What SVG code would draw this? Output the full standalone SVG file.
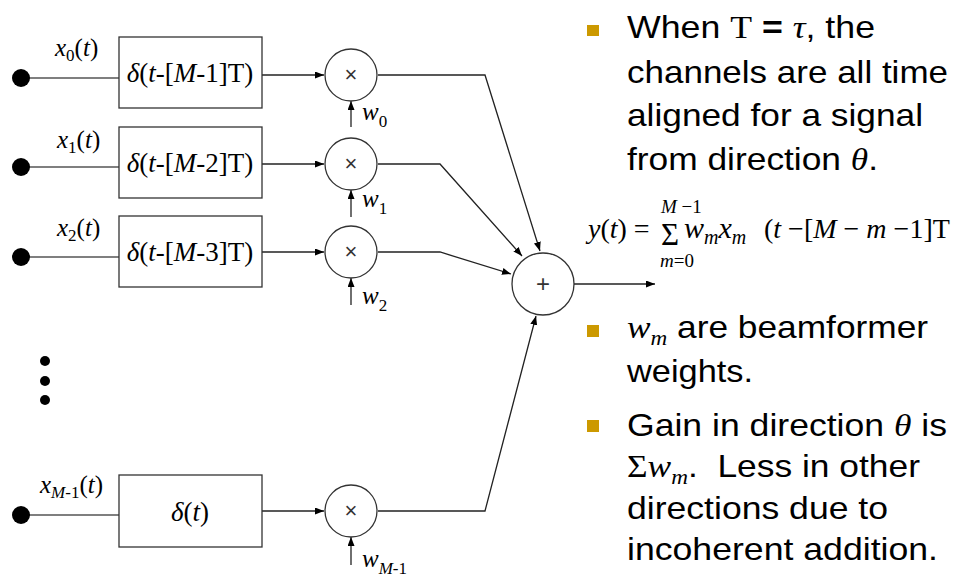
<svg xmlns="http://www.w3.org/2000/svg" width="955" height="574" viewBox="0 0 955 574">
<style>
  .ser{font-family:"Liberation Serif","Times New Roman",serif;fill:#000}
  .it{font-style:italic}
  .sans{font-family:"Liberation Sans",Arial,sans-serif;fill:#000}
  .box{fill:#fff;stroke:#333;stroke-width:1.3}
  .circ{fill:#fff;stroke:#333;stroke-width:1.3}
  .ln{fill:none;stroke:#222;stroke-width:1.3}
  .inl{fill:none;stroke:#555;stroke-width:1.3}
  .bul{fill:#CC9900}
  .rt{font-family:"Liberation Sans",Arial,sans-serif;font-size:32px;fill:#000}
  .lbl{font-size:25px}
  .sub{font-size:17px}
  .op{font-family:"Liberation Sans",Arial,sans-serif;fill:#333;font-weight:300}
</style>
<defs>
  <marker id="ah" markerUnits="userSpaceOnUse" markerWidth="10" markerHeight="8" refX="9" refY="3.5" orient="auto">
    <path d="M0,0 L9,3.5 L0,7 z" fill="#000"/>
  </marker>
</defs>
<rect width="955" height="574" fill="#fff"/>

<g id="connectors">
  <line class="inl" x1="28" y1="78" x2="119" y2="78"/>
  <line class="inl" x1="28" y1="167" x2="119" y2="167"/>
  <line class="inl" x1="28" y1="257" x2="119" y2="257"/>
  <line class="inl" x1="28" y1="515" x2="119" y2="515"/>
  <line class="ln" x1="262" y1="75" x2="324" y2="75" marker-end="url(#ah)"/>
  <line class="ln" x1="262" y1="164" x2="324" y2="164" marker-end="url(#ah)"/>
  <line class="ln" x1="262" y1="252" x2="324" y2="252" marker-end="url(#ah)"/>
  <line class="ln" x1="262" y1="511" x2="324" y2="511" marker-end="url(#ah)"/>
  <line class="ln" x1="351" y1="127" x2="351" y2="101" marker-end="url(#ah)"/>
  <line class="ln" x1="351" y1="217" x2="351" y2="190" marker-end="url(#ah)"/>
  <line class="ln" x1="351" y1="305" x2="351" y2="278" marker-end="url(#ah)"/>
  <line class="ln" x1="351" y1="565" x2="351" y2="537" marker-end="url(#ah)"/>
  <polyline class="ln" points="378,75 485,75 540,251" marker-end="url(#ah)"/>
  <polyline class="ln" points="378,164 440,164 522,256" marker-end="url(#ah)"/>
  <polyline class="ln" points="378,252 440,252 511,274" marker-end="url(#ah)"/>
  <polyline class="ln" points="378,511 485,511 536,316" marker-end="url(#ah)"/>
  <line class="ln" x1="574" y1="284" x2="655" y2="284" marker-end="url(#ah)"/>
</g>

<g id="input0">
  <circle cx="21" cy="78" r="9" fill="#000"/>
  <text class="ser lbl" y="56"><tspan x="55" class="it">x</tspan><tspan class="sub" dy="5">0</tspan><tspan dy="-5">(</tspan><tspan class="it">t</tspan><tspan>)</tspan></text>
</g>
<g id="input1">
  <circle cx="21" cy="167" r="9" fill="#000"/>
  <text class="ser lbl" y="148"><tspan x="57" class="it">x</tspan><tspan class="sub" dy="5">1</tspan><tspan dy="-5">(</tspan><tspan class="it">t</tspan><tspan>)</tspan></text>
</g>
<g id="input2">
  <circle cx="21" cy="257" r="9" fill="#000"/>
  <text class="ser lbl" y="236"><tspan x="57" class="it">x</tspan><tspan class="sub" dy="5">2</tspan><tspan dy="-5">(</tspan><tspan class="it">t</tspan><tspan>)</tspan></text>
</g>
<g id="ellipsis">
  <circle cx="45" cy="361" r="5" fill="#000"/>
  <circle cx="45" cy="381" r="5" fill="#000"/>
  <circle cx="45" cy="400" r="5" fill="#000"/>
</g>
<g id="input3">
  <circle cx="21" cy="515" r="9" fill="#000"/>
  <text class="ser lbl" y="493"><tspan x="40" class="it">x</tspan><tspan class="sub it" dy="5">M</tspan><tspan class="sub">-1</tspan><tspan dy="-5">(</tspan><tspan class="it">t</tspan><tspan>)</tspan></text>
</g>

<g id="delay0">
  <rect class="box" x="119" y="37" width="143" height="71"/>
  <text class="ser" font-size="27" x="190" y="82" text-anchor="middle"><tspan class="it">δ</tspan>(<tspan class="it">t</tspan>-[<tspan class="it">M</tspan>-1]T)</text>
</g>
<g id="delay1">
  <rect class="box" x="119" y="127" width="143" height="71"/>
  <text class="ser" font-size="27" x="190" y="172" text-anchor="middle"><tspan class="it">δ</tspan>(<tspan class="it">t</tspan>-[<tspan class="it">M</tspan>-2]T)</text>
</g>
<g id="delay2">
  <rect class="box" x="119" y="216" width="143" height="71"/>
  <text class="ser" font-size="27" x="190" y="261" text-anchor="middle"><tspan class="it">δ</tspan>(<tspan class="it">t</tspan>-[<tspan class="it">M</tspan>-3]T)</text>
</g>
<g id="delay3">
  <rect class="box" x="119" y="475" width="143" height="72"/>
  <text class="ser" font-size="27" x="190" y="521" text-anchor="middle"><tspan class="it">δ</tspan>(<tspan class="it">t</tspan>)</text>
</g>

<g id="mult0">
  <circle class="circ" cx="351" cy="75" r="26"/>
  <text class="op" font-size="22" x="351" y="82" text-anchor="middle">×</text>
  <text class="ser lbl" y="120"><tspan x="362" class="it">w</tspan><tspan class="sub" dy="7">0</tspan></text>
</g>
<g id="mult1">
  <circle class="circ" cx="351" cy="164" r="26"/>
  <text class="op" font-size="22" x="351" y="171" text-anchor="middle">×</text>
  <text class="ser lbl" y="207"><tspan x="362" class="it">w</tspan><tspan class="sub" dy="7">1</tspan></text>
</g>
<g id="mult2">
  <circle class="circ" cx="351" cy="252" r="26"/>
  <text class="op" font-size="22" x="351" y="259" text-anchor="middle">×</text>
  <text class="ser lbl" y="304"><tspan x="362" class="it">w</tspan><tspan class="sub" dy="7">2</tspan></text>
</g>
<g id="mult3">
  <circle class="circ" cx="351" cy="511" r="26"/>
  <text class="op" font-size="22" x="351" y="518" text-anchor="middle">×</text>
  <text class="ser lbl" y="567"><tspan x="362" class="it">w</tspan><tspan class="sub it" dy="7">M</tspan><tspan class="sub">-1</tspan></text>
</g>

<g id="sum">
  <circle class="circ" cx="543" cy="284" r="31"/>
  <text class="op" font-size="24" x="543" y="292" text-anchor="middle">+</text>
</g>

<g id="formula">
  <text class="ser" font-size="28" y="238"><tspan x="588" class="it">y</tspan><tspan>(</tspan><tspan class="it">t</tspan><tspan>) =</tspan><tspan x="684" class="it" font-size="30">w</tspan><tspan class="it" font-size="20" dy="6">m</tspan><tspan class="it" font-size="30" dy="-6">x</tspan><tspan class="it" font-size="20" dy="6">m</tspan><tspan x="764" dy="-6">(</tspan><tspan class="it">t</tspan><tspan> −[</tspan><tspan class="it">M</tspan><tspan> − </tspan><tspan class="it">m</tspan><tspan> −1]T</tspan></text>
  <text class="ser" font-size="31" x="661" y="245">Σ</text>
  <text class="ser" font-size="19" y="213"><tspan x="661" class="it">M</tspan><tspan> −1</tspan></text>
  <text class="ser" font-size="19" y="267"><tspan x="660" class="it">m</tspan><tspan>=0</tspan></text>
</g>

<g id="bullet1">
  <rect class="bul" x="587" y="25" width="12" height="11"/>
  <text class="rt" x="627" y="38" textLength="248" lengthAdjust="spacingAndGlyphs">When <tspan font-family="Liberation Serif, serif">T</tspan> <tspan font-weight="bold">=</tspan> <tspan font-family="Liberation Serif, serif" font-style="italic">τ</tspan>, the</text>
  <text class="rt" x="627" y="83" textLength="321" lengthAdjust="spacingAndGlyphs">channels are all time</text>
  <text class="rt" x="627" y="126" textLength="296" lengthAdjust="spacingAndGlyphs">aligned for a signal</text>
  <text class="rt" x="627" y="170" textLength="251" lengthAdjust="spacingAndGlyphs">from direction <tspan font-family="Liberation Serif, serif" font-style="italic">θ</tspan>.</text>
</g>
<g id="bullet2">
  <rect class="bul" x="587" y="325" width="12" height="12"/>
  <text class="rt" x="627" y="338" textLength="301" lengthAdjust="spacingAndGlyphs"><tspan font-family="Liberation Serif, serif" font-style="italic">w</tspan><tspan font-family="Liberation Serif, serif" font-style="italic" font-size="21" dy="7">m</tspan><tspan dy="-7"> are beamformer</tspan></text>
  <text class="rt" x="627" y="382" textLength="126" lengthAdjust="spacingAndGlyphs">weights.</text>
</g>
<g id="bullet3">
  <rect class="bul" x="587" y="420" width="12" height="12"/>
  <text class="rt" x="627" y="436" textLength="320" lengthAdjust="spacingAndGlyphs">Gain in direction <tspan font-family="Liberation Serif, serif" font-style="italic">θ</tspan> is</text>
  <text class="rt" x="627" y="477" textLength="293" lengthAdjust="spacingAndGlyphs"><tspan font-family="Liberation Serif, serif">Σ</tspan><tspan font-family="Liberation Serif, serif" font-style="italic">w</tspan><tspan font-family="Liberation Serif, serif" font-style="italic" font-size="21" dy="7">m</tspan><tspan dy="-7">.&#160; Less in other</tspan></text>
  <text class="rt" x="627" y="519" textLength="261" lengthAdjust="spacingAndGlyphs">directions due to</text>
  <text class="rt" x="627" y="560" textLength="311" lengthAdjust="spacingAndGlyphs">incoherent addition.</text>
</g>
</svg>
